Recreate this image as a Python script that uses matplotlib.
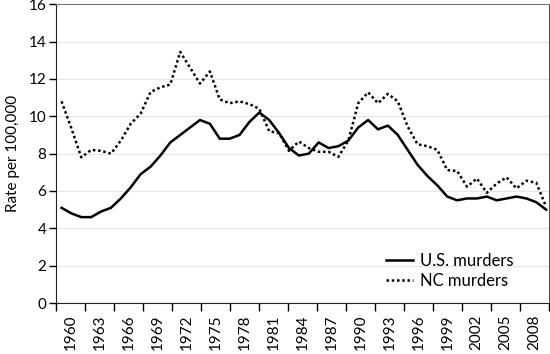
import numpy as np
import matplotlib
matplotlib.use('Agg')
import matplotlib.pyplot as plt

years = list(range(1960, 2010))

us_murders = [5.1, 4.8, 4.6, 4.6, 4.9, 5.1, 5.6, 6.2, 6.9, 7.3,
              7.9, 8.6, 9.0, 9.4, 9.8, 9.6, 8.8, 8.8, 9.0, 9.7,
              10.2, 9.8, 9.1, 8.3, 7.9, 8.0, 8.6, 8.3, 8.4, 8.7,
              9.4, 9.8, 9.3, 9.5, 9.0, 8.2, 7.4, 6.8, 6.3, 5.7,
              5.5, 5.6, 5.6, 5.7, 5.5, 5.6, 5.7, 5.6, 5.4, 5.0]

nc_murders = [10.8, 9.35, 7.8, 8.2, 8.15, 8.0, 8.7, 9.6, 10.15, 11.3,
              11.55, 11.7, 13.45, 12.6, 11.75, 12.4, 10.9, 10.7, 10.8, 10.65,
              10.4, 9.2, 9.1, 8.15, 8.65, 8.3, 8.1, 8.1, 7.83, 8.7,
              10.7, 11.28, 10.7, 11.2, 10.8, 9.45, 8.5, 8.4, 8.2, 7.12,
              7.07, 6.23, 6.67, 5.9, 6.4, 6.73, 6.14, 6.55, 6.44, 5.16]

tick_labels = [str(y) for y in range(1960, 2009, 3)]

plt.rcParams['font.family'] = ['Lato', 'DejaVu Sans']

fig = plt.figure(figsize=(5.5, 3.54), dpi=100)
ax = fig.add_axes([0.1018, 0.144, 0.8964, 0.844])

ax.plot(years, us_murders, color='black', lw=1.8, label='U.S. murders')
ax.plot(years, nc_murders, color='black', lw=1.8, linestyle=(0, (1, 1.1)),
        label='NC murders')

x0, x1 = 1959.44, 2009.29
ax.set_xlim(x0, x1)
ax.set_ylim(0, 16)

# tick marks on group boundaries, labels centred between them
edges = np.linspace(x0, x1, len(tick_labels) + 1)
mids = (edges[:-1] + edges[1:]) / 2
ax.set_xticks(edges)
ax.set_xticklabels([])
ax.set_xticks(mids, minor=True)
ax.set_xticklabels(tick_labels, minor=True, rotation=90, fontsize=11)
ax.tick_params(axis='x', which='major', length=6, width=1, direction='out')
ax.tick_params(axis='x', which='minor', length=0, pad=8)

ax.set_yticks(range(0, 17, 2))
ax.tick_params(axis='y', length=5, width=1, labelsize=11, pad=2)
ax.set_ylabel('Rate per 100,000', fontsize=11, labelpad=6)

for v in range(2, 16, 2):
    ax.axhline(v, color='#e6e6e6', lw=0.8, zorder=0)

ax.spines['left'].set_color('#222222')
ax.spines['bottom'].set_color('#222222')
ax.spines['top'].set_color('#777777')
ax.spines['right'].set_color('#555555')

ax.legend(loc='lower right', bbox_to_anchor=(0.945, 0.02), frameon=False,
          fontsize=12, handlelength=1.6, handletextpad=0.45,
          labelspacing=0.25, borderpad=0)

fig.savefig('out.png', dpi=100)
